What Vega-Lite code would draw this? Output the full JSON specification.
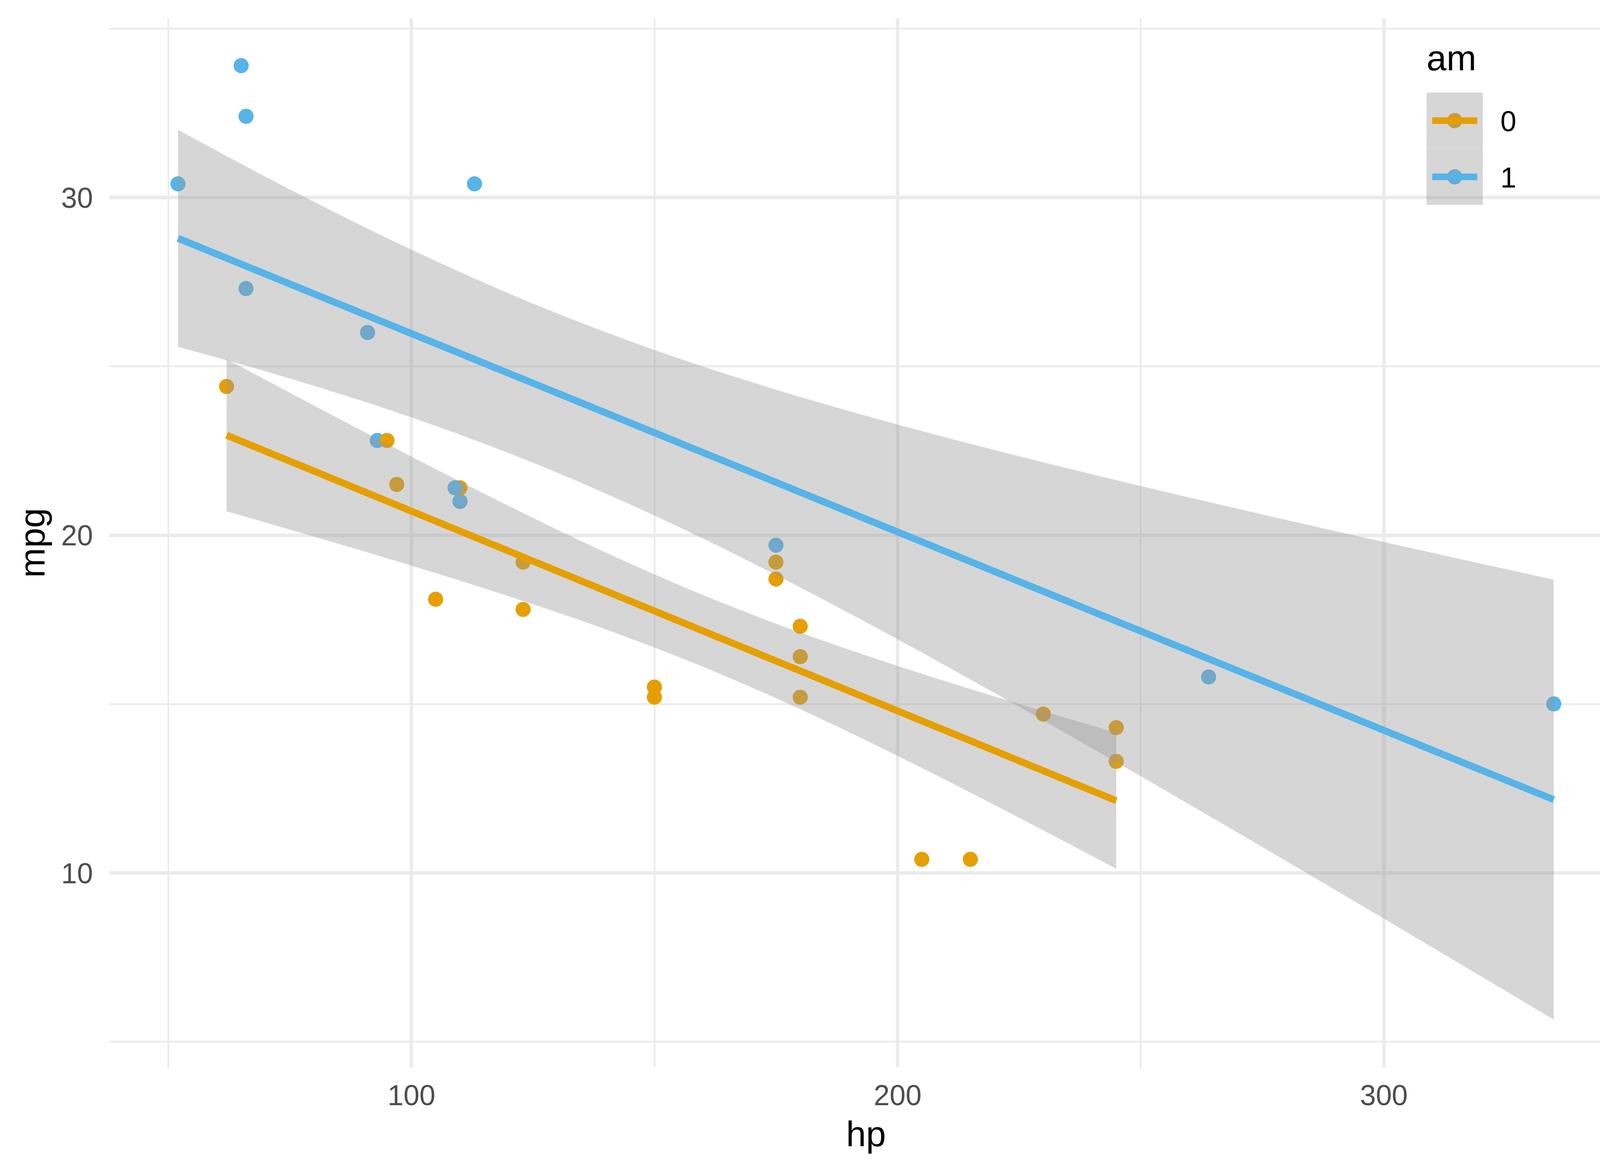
{
  "$schema": "https://vega.github.io/schema/vega-lite/v6.json",
  "width": 3874.2,
  "height": 2686,
  "autosize": {"type": "none"},
  "padding": {"left": 279.5, "top": 46, "right": 46.3, "bottom": 268},
  "background": "#ffffff",
  "datasets": {
    "cars": [
      {"hp": 110, "mpg": 21.0, "am": "1"},
      {"hp": 110, "mpg": 21.0, "am": "1"},
      {"hp": 93, "mpg": 22.8, "am": "1"},
      {"hp": 110, "mpg": 21.4, "am": "0"},
      {"hp": 175, "mpg": 18.7, "am": "0"},
      {"hp": 105, "mpg": 18.1, "am": "0"},
      {"hp": 245, "mpg": 14.3, "am": "0"},
      {"hp": 62, "mpg": 24.4, "am": "0"},
      {"hp": 95, "mpg": 22.8, "am": "0"},
      {"hp": 123, "mpg": 19.2, "am": "0"},
      {"hp": 123, "mpg": 17.8, "am": "0"},
      {"hp": 180, "mpg": 16.4, "am": "0"},
      {"hp": 180, "mpg": 17.3, "am": "0"},
      {"hp": 180, "mpg": 15.2, "am": "0"},
      {"hp": 205, "mpg": 10.4, "am": "0"},
      {"hp": 215, "mpg": 10.4, "am": "0"},
      {"hp": 230, "mpg": 14.7, "am": "0"},
      {"hp": 66, "mpg": 32.4, "am": "1"},
      {"hp": 52, "mpg": 30.4, "am": "1"},
      {"hp": 65, "mpg": 33.9, "am": "1"},
      {"hp": 97, "mpg": 21.5, "am": "0"},
      {"hp": 150, "mpg": 15.5, "am": "0"},
      {"hp": 150, "mpg": 15.2, "am": "0"},
      {"hp": 245, "mpg": 13.3, "am": "0"},
      {"hp": 175, "mpg": 19.2, "am": "0"},
      {"hp": 66, "mpg": 27.3, "am": "1"},
      {"hp": 91, "mpg": 26.0, "am": "1"},
      {"hp": 113, "mpg": 30.4, "am": "1"},
      {"hp": 264, "mpg": 15.8, "am": "1"},
      {"hp": 175, "mpg": 19.7, "am": "1"},
      {"hp": 335, "mpg": 15.0, "am": "1"},
      {"hp": 109, "mpg": 21.4, "am": "1"}
    ],
    "bands": [
      {"am": "0", "hp": 62, "lo": 20.706, "hi": 25.210},
      {"am": "0", "hp": 80, "lo": 19.955, "hi": 23.833},
      {"am": "0", "hp": 100, "lo": 19.096, "hi": 22.326},
      {"am": "0", "hp": 120, "lo": 18.191, "hi": 20.865},
      {"am": "0", "hp": 140, "lo": 17.208, "hi": 19.482},
      {"am": "0", "hp": 160, "lo": 16.102, "hi": 18.224},
      {"am": "0", "hp": 180, "lo": 14.847, "hi": 17.113},
      {"am": "0", "hp": 200, "lo": 13.466, "hi": 16.128},
      {"am": "0", "hp": 220, "lo": 12.007, "hi": 15.221},
      {"am": "0", "hp": 245, "lo": 10.121, "hi": 14.151},
      {"am": "1", "hp": 52, "lo": 25.576, "hi": 32.000},
      {"am": "1", "hp": 75, "lo": 24.638, "hi": 30.236},
      {"am": "1", "hp": 100, "lo": 23.486, "hi": 28.452},
      {"am": "1", "hp": 125, "lo": 22.145, "hi": 26.857},
      {"am": "1", "hp": 150, "lo": 20.581, "hi": 25.483},
      {"am": "1", "hp": 175, "lo": 18.821, "hi": 24.307},
      {"am": "1", "hp": 200, "lo": 16.918, "hi": 23.274},
      {"am": "1", "hp": 225, "lo": 14.920, "hi": 22.336},
      {"am": "1", "hp": 250, "lo": 12.863, "hi": 21.455},
      {"am": "1", "hp": 275, "lo": 10.769, "hi": 20.613},
      {"am": "1", "hp": 300, "lo": 8.650, "hi": 19.796},
      {"am": "1", "hp": 335, "lo": 5.654, "hi": 18.680}
    ],
    "lines": [
      {"am": "0", "hp": 62, "fit": 22.958},
      {"am": "0", "hp": 245, "fit": 12.136},
      {"am": "1", "hp": 52, "fit": 28.788},
      {"am": "1", "hp": 335, "fit": 12.167}
    ]
  },
  "layer": [
    {
      "data": {"name": "cars"},
      "mark": {"type": "point", "filled": true, "size": 1500, "opacity": 1, "strokeWidth": 0},
      "encoding": {
        "x": {
          "field": "hp", "type": "quantitative",
          "scale": {"domain": [37.85, 349.15], "nice": false, "zero": false},
          "axis": {
            "title": "hp",
            "values": [50, 100, 150, 200, 250, 300],
            "format": "d",
            "labelExpr": "datum.value % 100 === 0 ? datum.label : ''",
            "gridWidth": {"condition": {"test": "datum.value % 100 === 0", "value": 8.9}, "value": 4.45},
            "labelPadding": 38,
            "titleX": 1937,
            "titleY": 201,
            "titleBaseline": "alphabetic",
            "titleAlign": "center"
          }
        },
        "y": {
          "field": "mpg", "type": "quantitative",
          "scale": {"domain": [4.242, 35.312], "nice": false, "zero": false},
          "axis": {
            "title": "mpg",
            "values": [5, 10, 15, 20, 25, 30, 35],
            "format": "d",
            "labelExpr": "datum.value % 10 === 0 ? datum.label : ''",
            "gridWidth": {"condition": {"test": "datum.value % 10 === 0", "value": 8.9}, "value": 4.45},
            "labelPadding": 42,
            "labelOffset": 4,
            "titleX": -166.5,
            "titleY": 1343,
            "titleAngle": -90,
            "titleBaseline": "alphabetic",
            "titleAlign": "center"
          }
        },
        "color": {
          "field": "am", "type": "nominal",
          "scale": {"range": ["#E69F00", "#56B4E9"]},
          "legend": {
            "orient": "none", "legendX": 3372.5, "legendY": 62, "zindex": 1,
            "title": "am", "titleOpacity": 0, "labelOpacity": 0,
            "symbolType": "M0.269,0A0.269,0.269,0,1,1,-0.269,0A0.269,0.269,0,1,1,0.269,0Z",
            "symbolSize": 20736, "symbolStrokeWidth": 0, "clipHeight": 144,
            "encode": {"symbols": {"update": {"stroke": {"value": "transparent"}, "strokeWidth": {"value": 0}}}}
          }
        }
      }
    },
    {
      "data": {"name": "bands"},
      "mark": {"type": "area", "fillOpacity": 0.4, "interpolate": "monotone"},
      "encoding": {
        "x": {"field": "hp", "type": "quantitative", "title": "hp"},
        "y": {"field": "lo", "type": "quantitative", "title": "mpg"},
        "y2": {"field": "hi"},
        "fill": {
          "field": "am", "type": "nominal",
          "scale": {"range": ["#999999", "#999999"]},
          "legend": {
            "orient": "none", "legendX": 3372.5, "legendY": 62, "zindex": 2,
            "title": "am", "titleOpacity": 0, "labelOpacity": 0,
            "symbolType": "square",
            "symbolSize": 20736, "symbolStrokeWidth": 0, "clipHeight": 144,
            "encode": {"symbols": {"update": {"fill": {"value": "#999999"}, "fillOpacity": {"value": 0.4}, "stroke": {"value": "transparent"}, "strokeWidth": {"value": 0}}}}
          }
        }
      }
    },
    {
      "data": {"name": "lines"},
      "mark": {"type": "line", "strokeWidth": 17.8},
      "encoding": {
        "x": {"field": "hp", "type": "quantitative", "title": "hp"},
        "y": {"field": "fit", "type": "quantitative", "title": "mpg"},
        "stroke": {
          "field": "am", "type": "nominal",
          "scale": {"range": ["#E69F00", "#56B4E9"]},
          "legend": {
            "orient": "none", "legendX": 3372.5, "legendY": 62, "zindex": 3,
            "title": "am",
            "symbolType": "M-0.8,-0.118H0.8V0.118H-0.8Z",
            "symbolSize": 20736, "symbolStrokeWidth": 0, "clipHeight": 144,
            "encode": {
              "symbols": {"update": {"fill": {"scale": "stroke", "field": "value"}, "stroke": {"value": "transparent"}, "strokeWidth": {"value": 0}}},
              "labels": {"update": {"dy": {"value": 5}}}
            }
          }
        }
      }
    }
  ],
  "config": {
    "font": "Liberation Sans",
    "view": {"stroke": null},
    "axis": {
      "domain": false,
      "ticks": false,
      "tickSize": 0,
      "grid": true,
      "gridColor": "#ebebeb",
      "labelFont": "Liberation Sans",
      "labelFontSize": 73.3,
      "labelColor": "#4d4d4d",
      "labelOverlap": false,
      "labelFlush": false,
      "labelBound": false,
      "titleFont": "Liberation Sans",
      "titleFontSize": 91.7,
      "titleFontWeight": "normal",
      "titleColor": "#000000"
    },
    "legend": {
      "padding": 0,
      "rowPadding": 0,
      "titlePadding": 37,
      "titleFont": "Liberation Sans",
      "titleFontSize": 91.7,
      "titleFontWeight": "normal",
      "titleColor": "#000000",
      "labelFont": "Liberation Sans",
      "labelFontSize": 73.3,
      "labelColor": "#000000",
      "labelOffset": 45
    }
  }
}
